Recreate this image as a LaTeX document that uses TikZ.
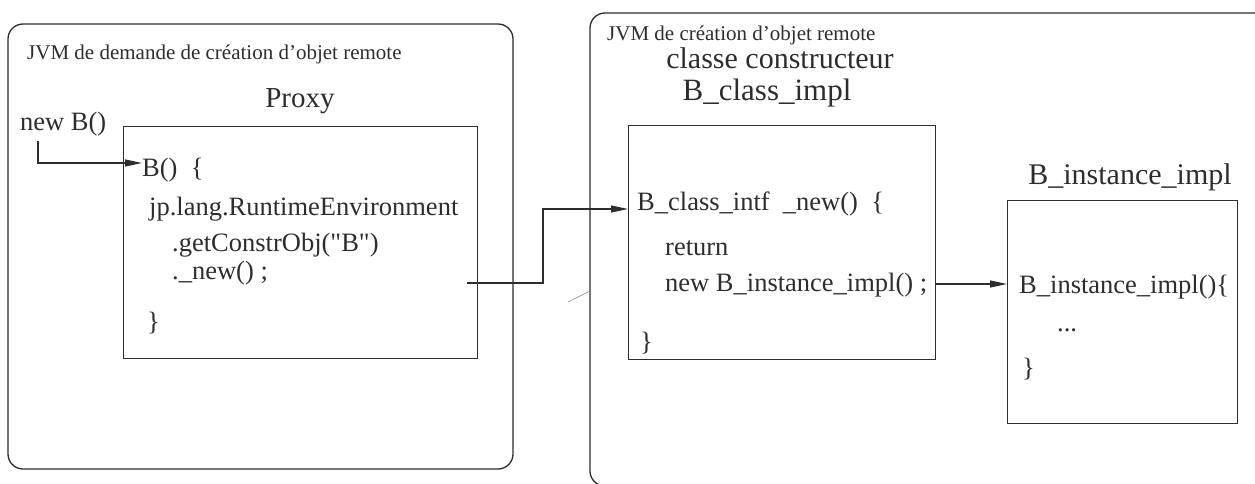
\documentclass[tikz,border=0pt]{standalone}
\usepackage{fontspec}
\setmainfont{Liberation Serif}[Ligatures=TeXOff]
\usetikzlibrary{arrows.meta}
\definecolor{ink}{RGB}{45,45,45}
\tikzset{
  frame/.style={draw=ink, line width=1.3pt, rounded corners=15pt},
  codebox/.style={draw=ink, line width=1.3pt, inner sep=0pt, anchor=north west},
  wire/.style={draw=ink, line width=1.2pt},
  arrowwire/.style={wire, -{Triangle[length=17pt,width=7pt]}},
  small/.style={font=\fontsize{21}{24}\selectfont, text=ink, inner sep=0pt, anchor=base west},
  head/.style={font=\fontsize{30}{34}\selectfont, text=ink, inner sep=0pt, anchor=base},
  code/.style={font=\fontsize{26.5}{30}\selectfont, text=ink, inner sep=0pt, anchor=base west},
}
\begin{document}
\begin{tikzpicture}[x=1pt,y=-1pt]
\useasboundingbox (0,0) rectangle (1255,484);
\clip (0,0) rectangle (1255,484);

% left JVM: the requesting side
\draw[frame] (8,24) rectangle (513,469);
\node[small] (jvmA) at (27,60) {JVM de demande de création d’objet remote};
\node[head, font=\fontsize{29}{33}\selectfont] (proxyT) at (300,108) {Proxy};
\node[code] (newB) at (20,131) {new B()};
\node[codebox, minimum width=354pt, minimum height=232pt] (proxy) at (123,126) {};
\node[code] (bctor) at (142,176) {B()\ \ \{};
\node[code] (jp) at (149,215) {jp.lang.RuntimeEnvironment};
\node[code] (getc) at (172,251) {.getConstrObj("B")};
\node[code] (pnew) at (172,279) {.\_new() ;};
\node[code] (pend) at (147,330) {\}};
\coordinate (pout) at (467,283);
\coordinate (nb) at (38,141);

% right JVM: the creating side
\draw[frame] (590,13) rectangle (1290,486);
\node[small] (jvmB) at (607,41) {JVM de création d’objet remote};
\node[head] (ctorT) at (780,69) {classe constructeur};
\node[head, font=\fontsize{31}{35}\selectfont] (clsT) at (767,101) {B\_class\_impl};
\node[codebox, minimum width=307pt, minimum height=234pt] (cls) at (628,125) {};
\node[code] (cnew) at (637,210) {B\_class\_intf\ \ \_new()\ \ \{};
\node[code] (ret) at (665,255) {return};
\node[code] (newI) at (665,291) {new B\_instance\_impl() ;};
\node[code] (cend) at (640,350) {\}};

\node[head] (instT) at (1130,184) {B\_instance\_impl};
\node[codebox, minimum width=230pt, minimum height=223pt] (inst) at (1007,200) {};
\node[code] (ictor) at (1019,293) {B\_instance\_impl()\{};
\node[code] (idots) at (1057,331) {...};
\node[code] (iend) at (1022,376) {\}};

% calls
\draw[arrowwire] (nb) |- (bctor.west |- 0,163);
\draw[arrowwire] (pout) -| (543,209) -- (cls.west |- 0,209);
\draw[arrowwire] (cls.east |- 0,284) -- (inst.west |- 0,284);

% stray pen mark
\draw[ink!60, line width=0.6pt] (568,302) -- (590,291);
\end{tikzpicture}
\end{document}
